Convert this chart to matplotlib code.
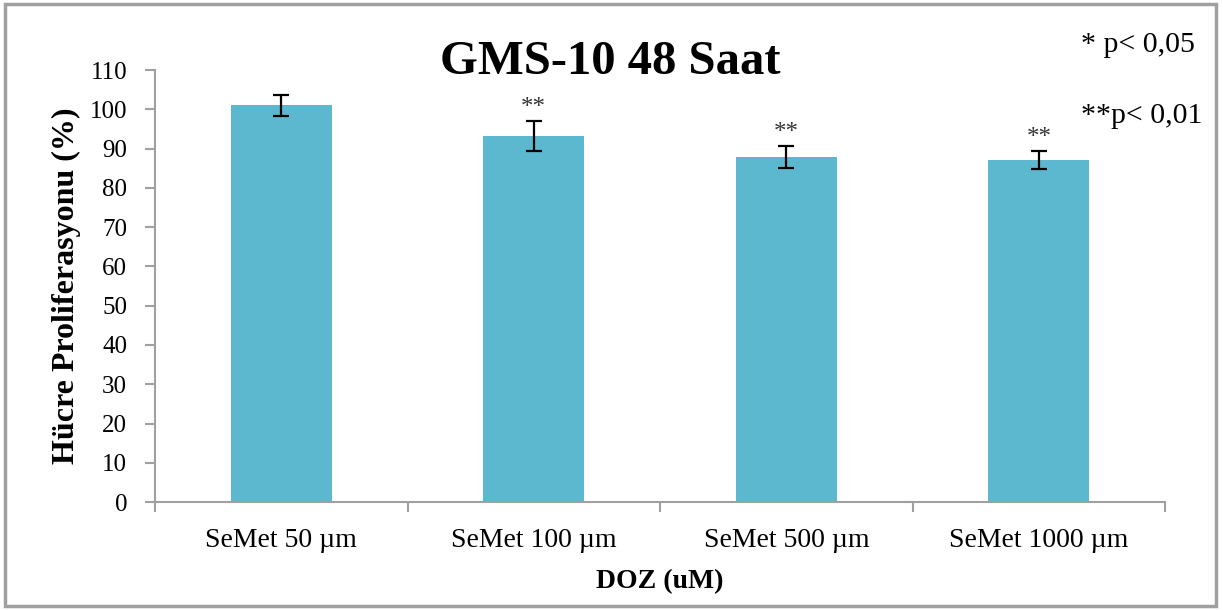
import numpy as np
import matplotlib
matplotlib.use("Agg")
import matplotlib.pyplot as plt
from matplotlib.patches import Rectangle

categories = ["SeMet 50 µm", "SeMet 100 µm", "SeMet 500 µm", "SeMet 1000 µm"]
values = [101.0, 93.2, 87.9, 87.2]
errors = [2.6, 3.9, 2.7, 2.3]
stars = ["", "**", "**", "**"]

plt.rcParams['font.family'] = ['Liberation Serif', 'DejaVu Serif']

fig = plt.figure(figsize=(12.23, 6.10), dpi=100)
ax = fig.add_axes([0.1267, 0.177, 0.826, 0.708])

x = np.arange(len(categories))
ax.bar(x, values, width=0.4, color='#5bb8cf', zorder=2)
ax.errorbar(x, values, yerr=errors, fmt='none', ecolor='black',
            elinewidth=1.6, capsize=6, capthick=1.6, zorder=3)
for xi, v, e, s in zip(x, values, errors, stars):
    if s:
        ax.text(xi, v + e + 1.8, s, ha='center', va='baseline',
                fontsize=18, color='#333333')

ax.set_xlim(-0.5, len(categories) - 0.5)
ax.set_ylim(0, 110)
ax.set_yticks(np.arange(0, 111, 10))
ax.set_xticks(x)
ax.set_xticklabels(categories, fontsize=20)
ax.set_xticks(np.arange(-0.5, len(categories), 1), minor=True)
ax.tick_params(axis='x', which='major', length=0, pad=19)
ax.tick_params(axis='x', which='minor', length=7, width=1.5, color='#a0a0a0')
ax.tick_params(axis='y', length=7, width=1.5, color='#a0a0a0', labelsize=18, pad=13)

for s in ['top', 'right']:
    ax.spines[s].set_visible(False)
for s in ['left', 'bottom']:
    ax.spines[s].set_color('#a0a0a0')
    ax.spines[s].set_linewidth(1.5)

ax.set_ylabel("Hücre Proliferasyonu (%)", fontsize=23, fontweight='bold', labelpad=6)
ax.set_xlabel("DOZ (uM)", fontsize=20, fontweight='bold', labelpad=11)

fig.text(0.499, 0.898, "GMS-10 48 Saat", ha='center', va='center',
         fontsize=35, fontweight='bold')
fig.text(0.884, 0.926, "* p< 0,05", ha='left', va='center', fontsize=21.5)
fig.text(0.884, 0.810, "**p< 0,01", ha='left', va='center', fontsize=21.5)

fig.patches.append(Rectangle((0.004, 0.006), 0.99, 0.988, transform=fig.transFigure,
                             fill=False, edgecolor='#a0a0a0', linewidth=2.5))

fig.savefig("out.png", dpi=100)
